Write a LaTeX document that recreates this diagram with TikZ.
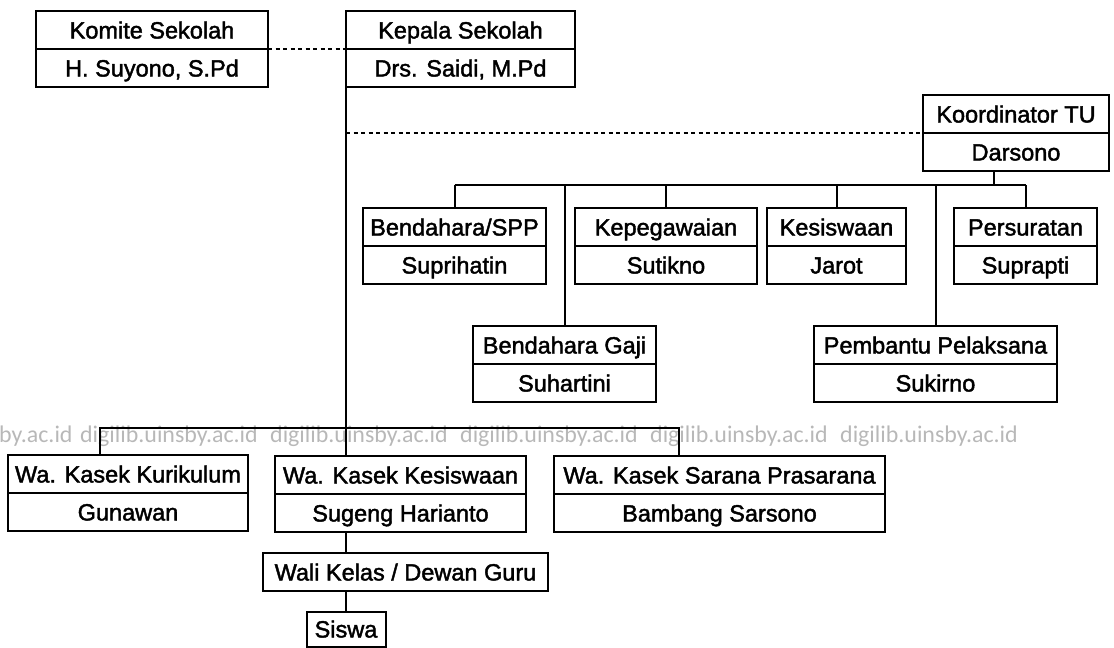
\documentclass[tikz,border=0pt]{standalone}
\usepackage{fontspec}
\setmainfont{Liberation Sans}
\newfontfamily\boxfont{Liberation Sans}[FakeBold=1.8]
\newfontfamily\wmfont{Carlito}
\usetikzlibrary{positioning}

\begin{document}
\begin{tikzpicture}[x=1pt, y=-1pt,
    box/.style={draw, line width=2pt, inner sep=2pt, outer sep=0pt, minimum height=38pt,
        text height=19pt, text depth=2pt, font=\boxfont\fontsize{23.5}{28}\selectfont},
    link/.style={line width=2pt},
    dots/.style={line width=2pt, dash pattern=on 4pt off 3.5pt},
    mark text/.style={anchor=base west, inner sep=0pt, text=black!28,
        font=\wmfont\fontsize{23.9}{28}\selectfont}]
    \useasboundingbox (0,0) rectangle (1114,648);

    \node[mark text] (wm0) at (-1,442) {by.ac.id};
    \foreach \x [count=\i] in {80,270,460,650,840}
        \node[mark text] (wm\i) at (\x,442) {digilib.uinsby.ac.id};

    \node[box, minimum width=232pt] (komite) at (152,30) {Komite Sekolah};
    \node[box, minimum width=232pt, below=0pt of komite] (komiteN) {H. Suyono, S.Pd};
    \node[box, minimum width=229pt] (kepala) at (460.5,30) {Kepala Sekolah};
    \node[box, minimum width=229pt, below=0pt of kepala] (kepalaN) {Drs. Saidi, M.Pd};
    \node[box, minimum width=186pt] (koor) at (1016,114) {Koordinator TU};
    \node[box, minimum width=186pt, below=0pt of koor] (koorN) {Darsono};

    \node[box, minimum width=183pt] (spp) at (454.5,227) {Bendahara/SPP};
    \node[box, minimum width=183pt, below=0pt of spp] (sppN) {Suprihatin};
    \node[box, minimum width=182pt] (pegawai) at (666,227) {Kepegawaian};
    \node[box, minimum width=182pt, below=0pt of pegawai] (pegawaiN) {Sutikno};
    \node[box, minimum width=139pt] (siswaan) at (836.5,227) {Kesiswaan};
    \node[box, minimum width=139pt, below=0pt of siswaan] (siswaanN) {Jarot};
    \node[box, minimum width=143pt] (surat) at (1025.5,227) {Persuratan};
    \node[box, minimum width=143pt, below=0pt of surat] (suratN) {Suprapti};

    \node[box, minimum width=183pt] (gaji) at (564.5,345) {Bendahara Gaji};
    \node[box, minimum width=183pt, below=0pt of gaji] (gajiN) {Suhartini};
    \node[box, minimum width=243pt] (bantu) at (935.5,345) {Pembantu Pelaksana};
    \node[box, minimum width=243pt, below=0pt of bantu] (bantuN) {Sukirno};

    \node[box, minimum width=240pt] (kurik) at (128,474) {Wa. Kasek Kurikulum};
    \node[box, minimum width=240pt, below=0pt of kurik] (kurikN) {Gunawan};
    \node[box, minimum width=251pt] (kesis) at (400.5,475) {Wa. Kasek Kesiswaan};
    \node[box, minimum width=251pt, below=0pt of kesis] (kesisN) {Sugeng Harianto};
    \node[box, minimum width=331pt] (sarana) at (719.5,475) {Wa. Kasek Sarana Prasarana};
    \node[box, minimum width=331pt, below=0pt of sarana] (saranaN) {Bambang Sarsono};

    \node[box, minimum width=285pt] (wali) at (405.5,572) {Wali Kelas / Dewan Guru};
    \node[box, minimum width=79pt, minimum height=35pt] (siswa) at (346,629) {Siswa};

    \coordinate (tuJ) at (994,185);
    \coordinate (kurJ) at (100,428);
    \coordinate (sarJ) at (679,428);

    \draw[dots] (komite.south east) -- (kepala.south west);
    \draw[dots] (kepalaN.south west |- koor.south) -- (koor.south west);

    \draw[link] (kepalaN.south west) -- (kepalaN.south west |- kesis.north);
    \draw[link] (kesisN.south -| siswa.north) -- (wali.north -| siswa.north);
    \draw[link] (wali.south -| siswa.north) -- (siswa.north);

    \draw[link] (tuJ |- koorN.south) -- (tuJ);
    \draw[link] (spp.north |- tuJ) -- (surat.north |- tuJ);
    \foreach \n in {spp, pegawai, siswaan, surat, gaji, bantu}
        \draw[link] (\n.north |- tuJ) -- (\n.north);

    \draw[link] (kurJ |- kurik.north) -- (kurJ) -- (sarJ) -- (sarJ |- sarana.north);
\end{tikzpicture}
\end{document}
